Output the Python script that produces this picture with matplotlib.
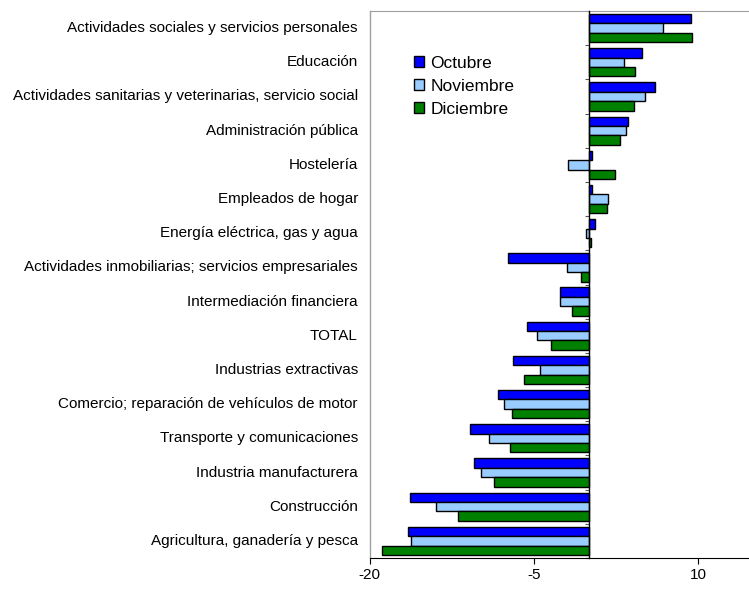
import matplotlib
matplotlib.use("Agg")
import matplotlib.pyplot as plt
import matplotlib.transforms as mtransforms
from matplotlib.patches import Patch
import numpy as np

# Categories listed top to bottom
categories = [
    "Actividades sociales y servicios personales",
    "Educación",
    "Actividades sanitarias y veterinarias, servicio social",
    "Administración pública",
    "Hostelería",
    "Empleados de hogar",
    "Energía eléctrica, gas y agua",
    "Actividades inmobiliarias; servicios empresariales",
    "Intermediación financiera",
    "TOTAL",
    "Industrias extractivas",
    "Comercio; reparación de vehículos de motor",
    "Transporte y comunicaciones",
    "Industria manufacturera",
    "Construcción",
    "Agricultura, ganadería y pesca",
]
octubre = [9.3, 4.9, 6.1, 3.6, 0.3, 0.3, 0.55, -7.4, -2.6, -5.6, -6.9, -8.3, -10.8, -10.5, -16.3, -16.5]
noviembre = [6.8, 3.2, 5.1, 3.4, -1.9, 1.8, -0.25, -2.0, -2.6, -4.7, -4.4, -7.7, -9.1, -9.8, -13.9, -16.2]
diciembre = [9.4, 4.2, 4.1, 2.9, 2.4, 1.7, 0.2, -0.7, -1.5, -3.4, -5.9, -7.0, -7.2, -8.6, -11.9, -18.9]
series_names = ["Octubre", "Noviembre", "Diciembre"]
series_colors = ["#0000FF", "#99CCFF", "#008000"]
xticks = [-20, -5, 10]

W, H = 749, 589
fig = plt.figure(figsize=(W / 100, H / 100), dpi=100)
plt.rcParams["font.family"] = ["Liberation Sans", "DejaVu Sans"]

left, right, top, bottom = 369.5, 753.0, 11.0, 558.0
ax = fig.add_axes([left / W, 1 - bottom / H, (right - left) / W, (bottom - top) / H])

n = len(categories)
y = np.arange(n)
bar_h = 0.275
for i, (vals, color) in enumerate(zip([octubre, noviembre, diciembre], series_colors)):
    ax.barh(y + (i - 1) * bar_h, vals, height=bar_h, color=color,
            edgecolor="black", linewidth=1.0, zorder=3)

ax.set_ylim(n - 0.5, -0.5)
ax.set_xlim(-20, 15)

# y axis drawn on zero line, ticks at category boundaries
ax.spines["left"].set_position(("data", 0))
ax.spines["left"].set_color("black")
ax.spines["left"].set_linewidth(1.0)
ax.spines["left"].set_zorder(4)
ax.set_yticks(np.arange(n + 1) - 0.5)
ax.tick_params(axis="y", length=3, direction="out", color="#555555", labelleft=False)

trans = mtransforms.blended_transform_factory(ax.transAxes, ax.transData)
for yi, name in zip(y, categories):
    ax.text(-0.03, yi, name, transform=trans, ha="right", va="center", fontsize=11)

# grey frame on left and top
ax.plot([0, 0], [0, 1], transform=ax.transAxes, color="#A0A0A0", lw=1.0, clip_on=False)
ax.spines["top"].set_color("#A0A0A0")
ax.spines["right"].set_visible(False)
ax.spines["bottom"].set_color("black")

ax.set_xticks(xticks)
ax.set_xticklabels([str(t) for t in xticks], fontsize=11)
ax.tick_params(axis="x", length=4, direction="out", pad=3)

handles = [Patch(facecolor=c, edgecolor="black", linewidth=1.0) for c in series_colors]
fig.legend(handles, series_names, loc="upper left", bbox_to_anchor=(414 / W, 1 - 56 / H),
           frameon=False, fontsize=12.5, handlelength=0.6, handleheight=0.6,
           handletextpad=0.35, labelspacing=0.45, borderpad=0, borderaxespad=0)

fig.savefig("out.png", dpi=100)
